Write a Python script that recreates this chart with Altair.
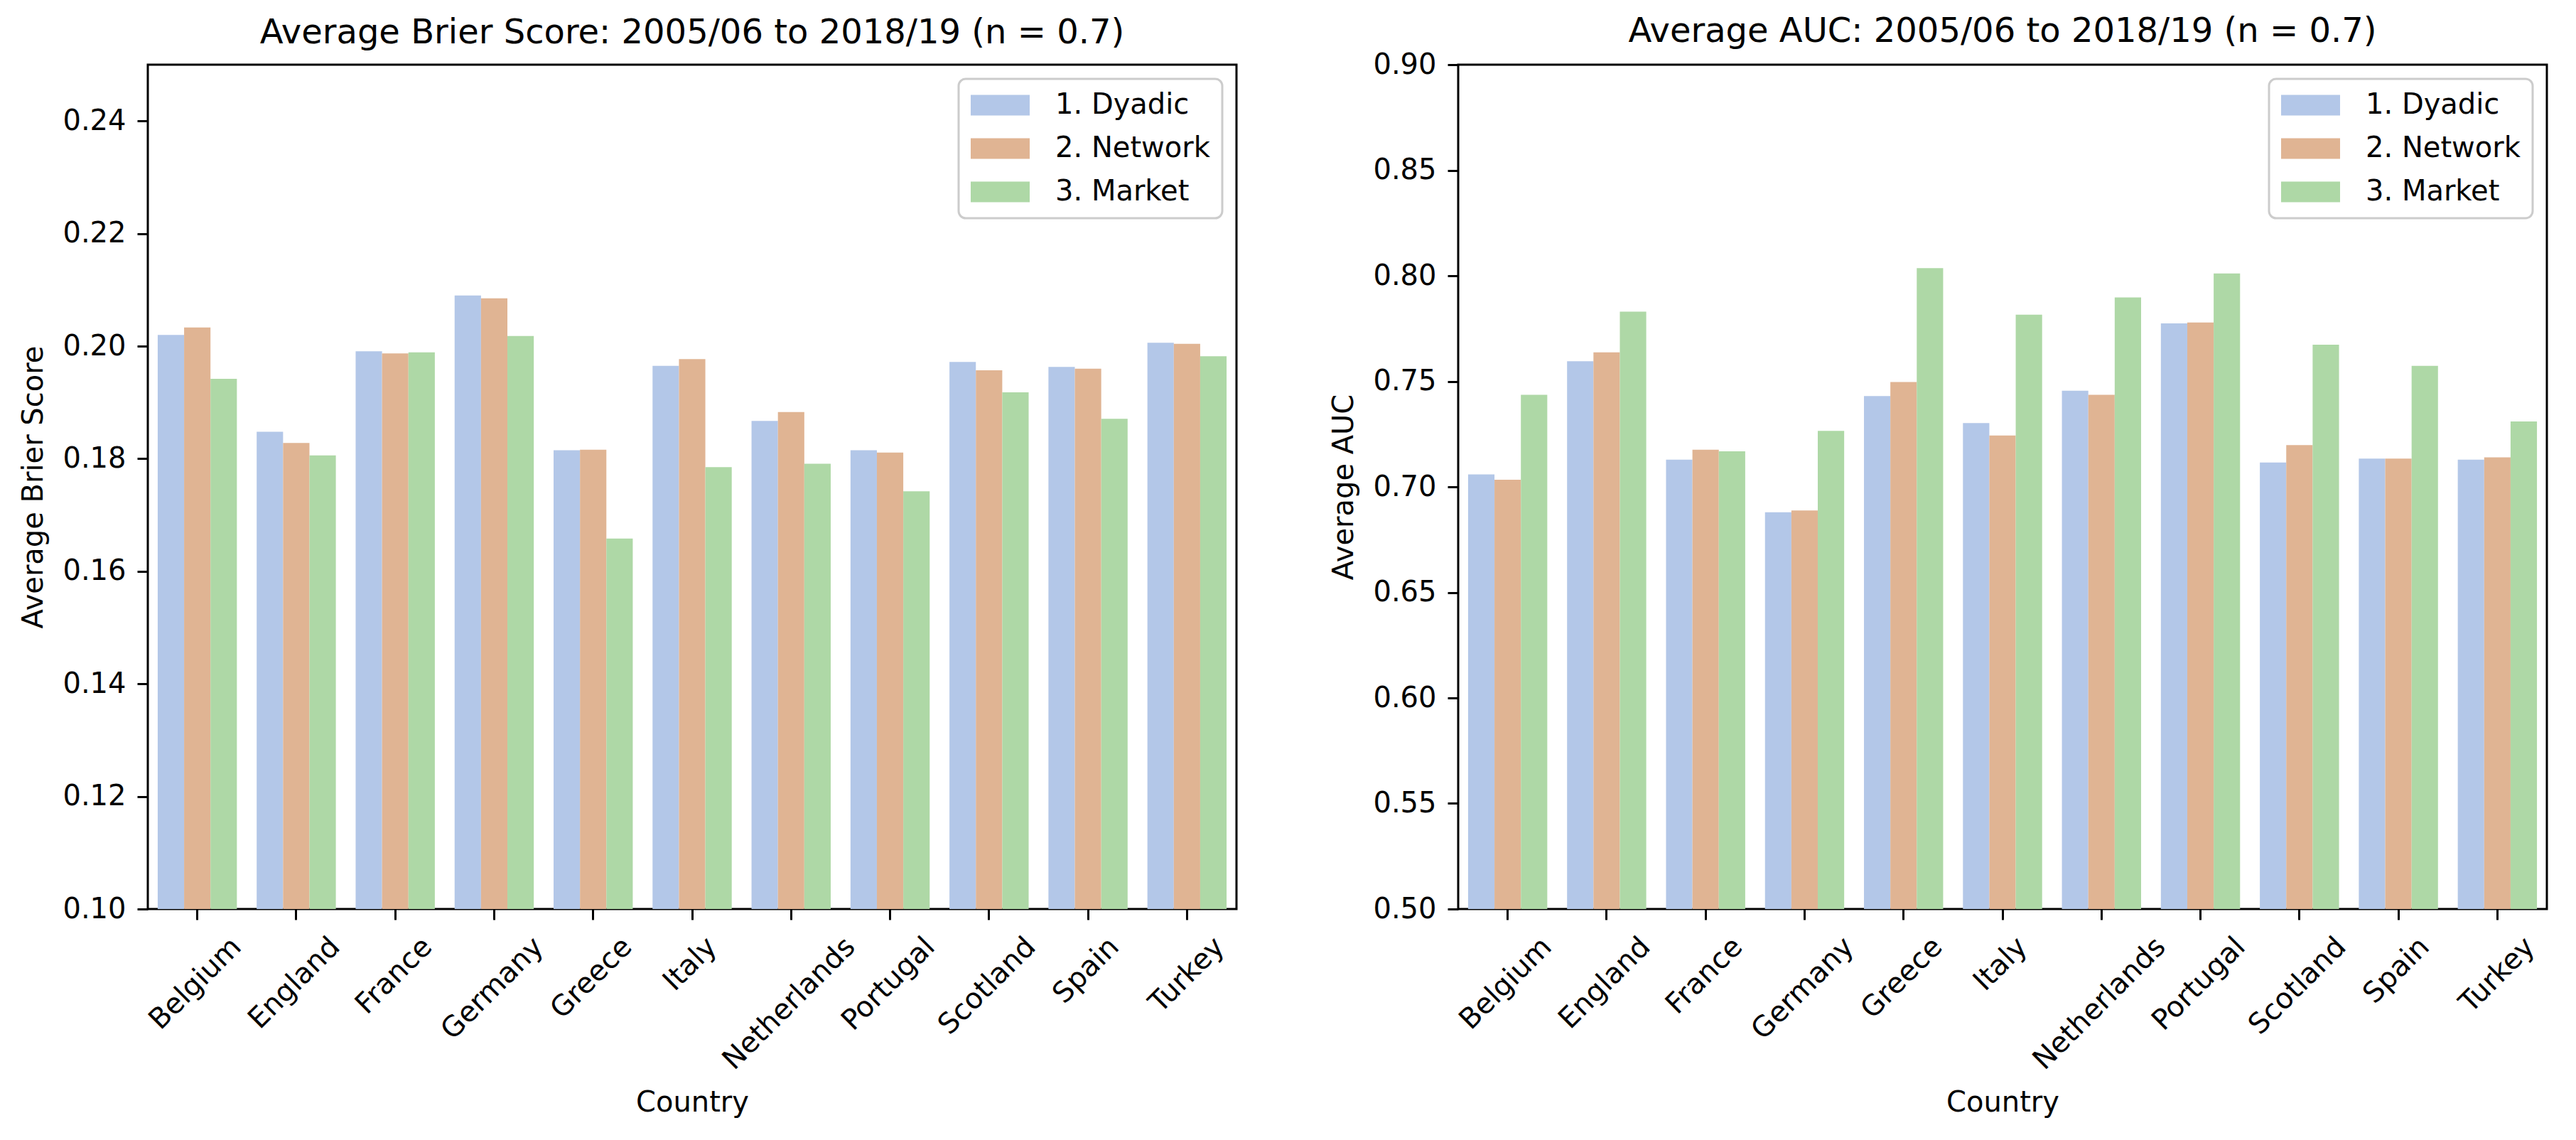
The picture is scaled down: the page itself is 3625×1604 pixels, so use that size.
import altair as alt
import pandas as pd

# ---------------- data ----------------
countries = ["Belgium", "England", "France", "Germany", "Greece", "Italy",
             "Netherlands", "Portugal", "Scotland", "Spain", "Turkey"]
models = ["1. Dyadic", "2. Network", "3. Market"]

brier_dyadic = [0.2020, 0.1848, 0.1991, 0.2090, 0.1815, 0.1965, 0.1867, 0.1815, 0.1972, 0.1963, 0.2006]
brier_network = [0.2033, 0.1828, 0.1987, 0.2085, 0.1816, 0.1977, 0.1883, 0.1811, 0.1957, 0.1960, 0.2004]
brier_market = [0.1942, 0.1806, 0.1989, 0.2018, 0.1658, 0.1785, 0.1791, 0.1742, 0.1918, 0.1871, 0.1982]

auc_dyadic = [0.7059, 0.7595, 0.7129, 0.6880, 0.7430, 0.7302, 0.7455, 0.7774, 0.7115, 0.7134, 0.7129]
auc_network = [0.7034, 0.7637, 0.7176, 0.6888, 0.7497, 0.7243, 0.7436, 0.7779, 0.7198, 0.7134, 0.7140]
auc_market = [0.7436, 0.7830, 0.7168, 0.7265, 0.8036, 0.7816, 0.7897, 0.8011, 0.7673, 0.7573, 0.7310]

brier_ticks = [0.10, 0.12, 0.14, 0.16, 0.18, 0.20, 0.22, 0.24]
auc_ticks = [0.50, 0.55, 0.60, 0.65, 0.70, 0.75, 0.80, 0.85, 0.90]

colors = ["#b3c7e8", "#e0b493", "#aed8a6"]

# ---------------- styling ----------------
FONT = "DejaVu Sans"
FS = 40
W, H = 1532, 1188

# DejaVu Sans advance widths (em) used to centre the rotated tick labels like matplotlib
adv = {"B": .686, "e": .615, "l": .278, "g": .635, "i": .278, "u": .634, "m": .974,
       "E": .632, "n": .634, "a": .613, "d": .635, "F": .575, "r": .411, "c": .550,
       "G": .775, "y": .592, "I": .295, "t": .392, "N": .748, "h": .634, "s": .521,
       "P": .603, "o": .612, "S": .635, "p": .635, "T": .611, "k": .579}


def text_w(s):
    return sum(adv.get(ch, 0.6) for ch in s) * FS


def long_df(series):
    rows = []
    for m, vals in zip(models, series):
        for c, v in zip(countries, vals):
            rows.append({"Country": c, "Model": m, "Value": v})
    return pd.DataFrame(rows)


labels_df = pd.DataFrame({"Country": countries, "lw": [text_w(c) for c in countries]})


def panel(df, title, ytitle, domain, ticks, title_offset):
    x_axis = alt.Axis(labels=False, domain=False, ticks=True, tickSize=15, tickWidth=3,
                      tickColor="black", title="Country", titleFont=FONT, titleFontSize=FS,
                      titleFontWeight="normal", titleColor="black", titlePadding=236)
    x_scale = alt.Scale(paddingInner=0.2, paddingOuter=0.1)
    bars = alt.Chart(df).mark_bar(clip=True).encode(
        x=alt.X("Country:N", sort=countries, scale=x_scale, axis=x_axis),
        xOffset=alt.XOffset("Model:N", sort=models,
                            scale=alt.Scale(paddingInner=0, paddingOuter=0)),
        y=alt.Y("Value:Q",
                scale=alt.Scale(domain=domain, zero=False, nice=False),
                axis=alt.Axis(values=ticks, format=".2f", domain=False, grid=False,
                              tickSize=15, tickWidth=3, tickColor="black",
                              labelFont=FONT, labelFontSize=FS, labelColor="black",
                              labelPadding=16, title=ytitle, titleFont=FONT,
                              titleFontSize=FS, titleFontWeight="normal",
                              titleColor="black", titlePadding=20)),
        color=alt.Color("Model:N", sort=models,
                        scale=alt.Scale(domain=models, range=colors),
                        title=None,
                        legend=alt.Legend(orient="top-right", offset=20,
                                          labelFont=FONT, labelFontSize=FS,
                                          labelColor="black", labelOffset=36,
                                          labelLimit=600,
                                          symbolType="M-1,-0.35H1V0.35H-1Z",
                                          symbolSize=6889, symbolStrokeWidth=0,
                                          symbolOpacity=1, clipHeight=40,
                                          rowPadding=21,
                                          padding=17, strokeColor="#cccccc",
                                          fillColor="white", cornerRadius=10)),
    )
    lbl = alt.Chart(labels_df).mark_text(
        align="right", baseline="top", angle=315, font=FONT, fontSize=FS,
        color="black",
        dx=alt.ExprRef("(datum.lw - 47) / 4"),
        dy=alt.ExprRef("(datum.lw - 47) / 4"),
    ).encode(
        x=alt.X("Country:N", sort=countries, scale=x_scale, axis=x_axis),
        y=alt.value(H + 33),
        text="Country:N",
    )
    return alt.layer(bars, lbl).properties(
        width=W, height=H,
        title=alt.TitleParams(title, font=FONT, fontSize=48, fontWeight="normal",
                              color="black", anchor="middle", offset=title_offset),
    )


left = panel(long_df([brier_dyadic, brier_network, brier_market]),
             "Average Brier Score: 2005/06 to 2018/19 (n = 0.7)",
             "Average Brier Score", [0.10, 0.25], brier_ticks, 20)
# the top "0.90" tick label reaches above the frame, so the title offset is smaller here
right = panel(long_df([auc_dyadic, auc_network, auc_market]),
              "Average AUC: 2005/06 to 2018/19 (n = 0.7)",
              "Average AUC", [0.50, 0.90], auc_ticks, 2)

chart = alt.hconcat(left, right, spacing=128).resolve_scale(
    color="independent"
).properties(
    padding={"left": 18, "top": 11, "right": 20, "bottom": 20},
    background="white",
).configure_view(
    stroke="black", strokeWidth=3
).configure_legend(
    strokeWidth=3
)

chart.save("out.html", embed_options={"renderer": "svg", "actions": False})
